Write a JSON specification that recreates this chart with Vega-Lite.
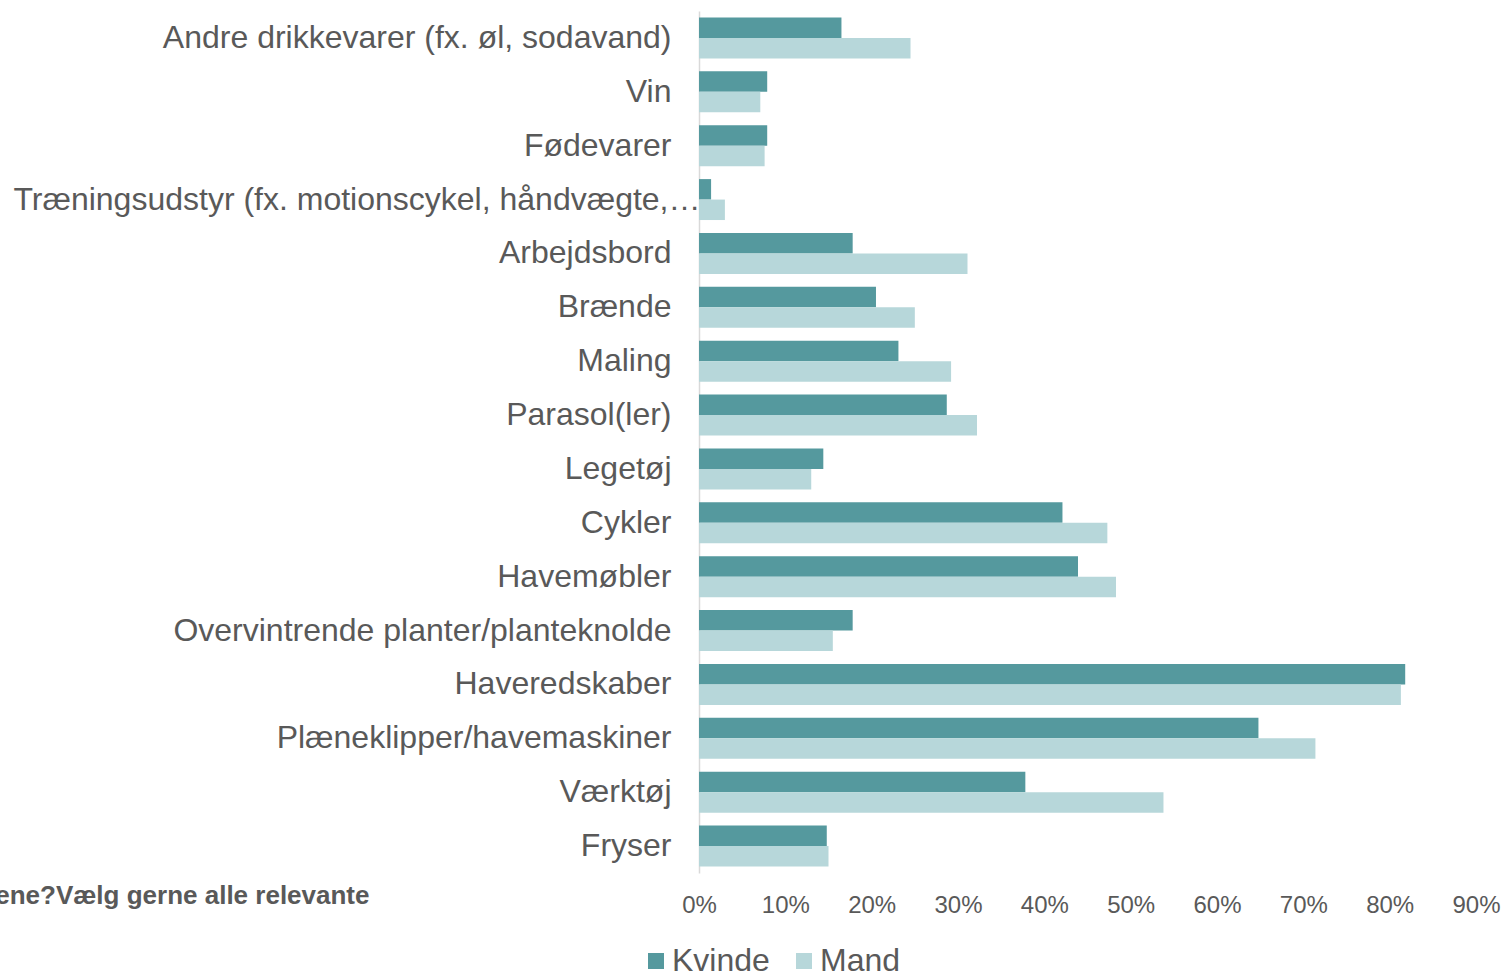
{
  "$schema": "https://vega.github.io/schema/vega-lite/v6.json",
  "autosize": "none",
  "padding": {"left": 699, "top": 11, "right": 31, "bottom": 102},
  "width": 777,
  "height": 862,
  "background": "white",
  "config": {"font": "Liberation Sans", "view": {"stroke": null}},
  "data": {"values": [
    {"cat": "Andre drikkevarer (fx. øl, sodavand)", "g": "Kvinde", "v": 0.165},
    {"cat": "Andre drikkevarer (fx. øl, sodavand)", "g": "Mand", "v": 0.245},
    {"cat": "Vin", "g": "Kvinde", "v": 0.079},
    {"cat": "Vin", "g": "Mand", "v": 0.071},
    {"cat": "Fødevarer", "g": "Kvinde", "v": 0.079},
    {"cat": "Fødevarer", "g": "Mand", "v": 0.076},
    {"cat": "Træningsudstyr (fx. motionscykel, håndvægte,…", "g": "Kvinde", "v": 0.014},
    {"cat": "Træningsudstyr (fx. motionscykel, håndvægte,…", "g": "Mand", "v": 0.030},
    {"cat": "Arbejdsbord", "g": "Kvinde", "v": 0.178},
    {"cat": "Arbejdsbord", "g": "Mand", "v": 0.311},
    {"cat": "Brænde", "g": "Kvinde", "v": 0.205},
    {"cat": "Brænde", "g": "Mand", "v": 0.250},
    {"cat": "Maling", "g": "Kvinde", "v": 0.231},
    {"cat": "Maling", "g": "Mand", "v": 0.292},
    {"cat": "Parasol(ler)", "g": "Kvinde", "v": 0.287},
    {"cat": "Parasol(ler)", "g": "Mand", "v": 0.322},
    {"cat": "Legetøj", "g": "Kvinde", "v": 0.144},
    {"cat": "Legetøj", "g": "Mand", "v": 0.130},
    {"cat": "Cykler", "g": "Kvinde", "v": 0.421},
    {"cat": "Cykler", "g": "Mand", "v": 0.473},
    {"cat": "Havemøbler", "g": "Kvinde", "v": 0.439},
    {"cat": "Havemøbler", "g": "Mand", "v": 0.483},
    {"cat": "Overvintrende planter/planteknolde", "g": "Kvinde", "v": 0.178},
    {"cat": "Overvintrende planter/planteknolde", "g": "Mand", "v": 0.155},
    {"cat": "Haveredskaber", "g": "Kvinde", "v": 0.818},
    {"cat": "Haveredskaber", "g": "Mand", "v": 0.813},
    {"cat": "Plæneklipper/havemaskiner", "g": "Kvinde", "v": 0.648},
    {"cat": "Plæneklipper/havemaskiner", "g": "Mand", "v": 0.714},
    {"cat": "Værktøj", "g": "Kvinde", "v": 0.378},
    {"cat": "Værktøj", "g": "Mand", "v": 0.538},
    {"cat": "Fryser", "g": "Kvinde", "v": 0.148},
    {"cat": "Fryser", "g": "Mand", "v": 0.150}
  ]},
  "mark": {"type": "bar"},
  "encoding": {
    "y": {
      "field": "cat", "type": "nominal", "sort": null,
      "scale": {"paddingInner": 0.24, "paddingOuter": 0.12},
      "axis": {
        "title": "ene?Vælg gerne alle relevante",
        "titleAngle": 0, "titleX": -330, "titleY": 884,
        "titleAlign": "right", "titleBaseline": "middle",
        "titleFontWeight": "bold", "titleFontSize": 26, "titleColor": "#595959",
        "labelFontSize": 32, "labelColor": "#595959",
        "labelPadding": {"condition": {"test": "indexof(datum.value, 'Træningsudstyr') === 0", "value": -1}, "value": 28},
        "labelLimit": 800, "ticks": false,
        "domainColor": "#D9D9D9", "domainWidth": 1.5
      }
    },
    "yOffset": {"field": "g", "type": "nominal", "sort": ["Kvinde", "Mand"]},
    "x": {
      "field": "v", "type": "quantitative",
      "scale": {"domain": [0, 0.9], "nice": false},
      "axis": {
        "title": null, "format": "%", "values": [0, 0.1, 0.2, 0.3, 0.4, 0.5, 0.6, 0.7, 0.8, 0.9],
        "grid": false, "ticks": false, "domain": false,
        "labelFontSize": 24, "labelColor": "#595959", "labelPadding": 20,
        "labelFlush": false
      }
    },
    "color": {
      "field": "g", "type": "nominal",
      "scale": {"domain": ["Kvinde", "Mand"], "range": ["#55999E", "#B7D7DA"]},
      "legend": {
        "title": null, "orient": "none", "direction": "horizontal",
        "legendX": -59, "legendY": 934,
        "symbolType": "square", "symbolSize": 256, "symbolStrokeWidth": 0,
        "labelFontSize": 32, "labelColor": "#595959", "labelOffset": 0,
        "columnPadding": 18
      }
    }
  }
}
